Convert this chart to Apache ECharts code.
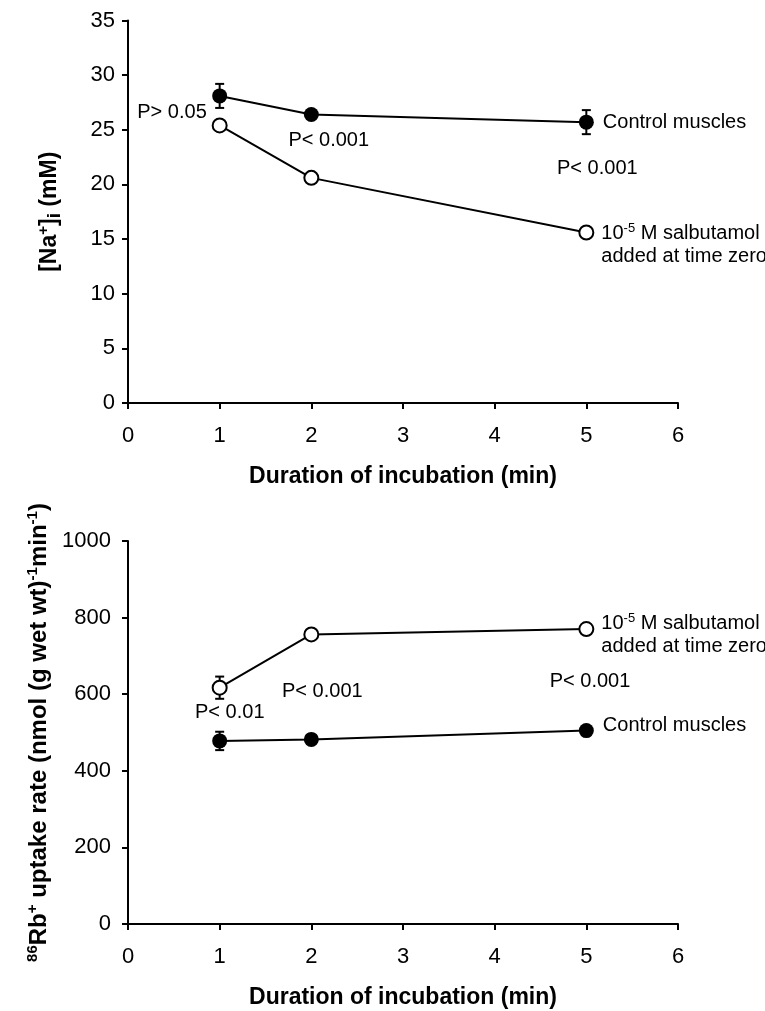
<!DOCTYPE html>
<html>
<head>
<meta charset="utf-8">
<script src="https://cdn.jsdelivr.net/npm/echarts@6/dist/echarts.min.js"></script>
<style>
  html, body { margin: 0; padding: 0; background: #fff; }
  #echart { width: 765px; height: 1011px; }
</style>
</head>
<body>
<div id="echart"></div>
<script>
let echart = echarts.init(document.getElementById('echart'))

// 数据
const minutes = [1, 2, 5]

const naControl = [28.1, 26.4, 25.7]
const naControlErr = [1.1, 0.3, 1.1]
const naSalbutamol = [25.4, 20.6, 15.6]
const naSalbutamolErr = [0.3, 0.3, 0.3]

const rbControl = [478, 482, 505]
const rbControlErr = [24, 8, 12]
const rbSalbutamol = [617, 756, 770]
const rbSalbutamolErr = [29, 8, 8]

// P-value notes: [x, y, text] in data units
const naNotes = [[0.48, 26.6, 'P> 0.05'], [2.19, 24.0, 'P< 0.001'], [5.12, 21.45, 'P< 0.001']]
const rbNotes = [[1.11, 553, 'P< 0.01'], [2.12, 608, 'P< 0.001'], [5.04, 632, 'P< 0.001']]

const font = 'Liberation Sans, Arial, Helvetica, sans-serif'

const textRich = {
    t: {fontSize: 20, fontFamily: font, color: '#000', lineHeight: 23},
    s: {fontSize: 13, fontFamily: font, color: '#000', lineHeight: 12, verticalAlign: 'top'}
}
const salbText = '{t|10}{s|-5}{t| M salbutamol}\n{t|added at time zero}'

function pts(ys) {
    return minutes.map((x, i) => [x, ys[i]])
}

function lineSeries(ys, idx, filled, label) {
    let data = pts(ys).map((v, i) => {
        let item = {value: v}
        if (i === ys.length - 1) item.label = label
        return item
    })
    return {
        type: 'line',
        xAxisIndex: idx,
        yAxisIndex: idx,
        data: data,
        symbol: 'circle',
        symbolSize: filled ? 15 : 14,
        showSymbol: true,
        lineStyle: {color: '#000', width: 2},
        itemStyle: {color: filled ? '#000' : '#fff', borderColor: '#000', borderWidth: filled ? 0 : 2, opacity: 1},
        emphasis: {disabled: true},
        z: 3
    }
}

function errSeries(ys, errs, idx) {
    return {
        type: 'custom',
        xAxisIndex: idx,
        yAxisIndex: idx,
        data: minutes.map((x, i) => [x, ys[i] - errs[i], ys[i] + errs[i]]),
        renderItem: function (params, api) {
            let lo = api.coord([api.value(0), api.value(1)])
            let hi = api.coord([api.value(0), api.value(2)])
            let w = 4.5
            let st = {stroke: '#000', lineWidth: 2}
            return {
                type: 'group',
                children: [
                    {type: 'line', shape: {x1: lo[0], y1: lo[1], x2: hi[0], y2: hi[1]}, style: st},
                    {type: 'line', shape: {x1: lo[0] - w, y1: lo[1], x2: lo[0] + w, y2: lo[1]}, style: st},
                    {type: 'line', shape: {x1: hi[0] - w, y1: hi[1], x2: hi[0] + w, y2: hi[1]}, style: st}
                ]
            }
        },
        silent: true,
        z: 1
    }
}

function noteSeries(notes, idx) {
    return {
        type: 'scatter',
        xAxisIndex: idx,
        yAxisIndex: idx,
        data: notes,
        symbolSize: 0,
        silent: true,
        itemStyle: {opacity: 1},
        label: {
            show: true,
            position: 'inside',
            formatter: p => p.data[2],
            color: '#000',
            opacity: 1,
            fontSize: 20,
            fontFamily: font
        }
    }
}

function xAxis(idx) {
    return {
        type: 'value',
        gridIndex: idx,
        min: 0,
        max: 6,
        interval: 1,
        axisLine: {show: true, onZero: false, lineStyle: {color: '#000', width: 2}},
        axisTick: {show: true, length: 6, lineStyle: {color: '#000', width: 2}},
        axisLabel: {fontSize: 22, color: '#000', fontFamily: font, margin: 22},
        splitLine: {show: false},
        name: 'Duration of incubation (min)',
        nameLocation: 'middle',
        nameGap: 62,
        nameTextStyle: {fontSize: 23, fontWeight: 'bold', color: '#000', fontFamily: font}
    }
}

function nameRich(size) {
    return {
        b: {fontSize: size, fontWeight: 'bold', fontFamily: font, color: '#000', lineHeight: 28},
        sup: {fontSize: 15, fontWeight: 'bold', fontFamily: font, color: '#000', lineHeight: 14, verticalAlign: 'top'},
        sub: {fontSize: 19, fontWeight: 'bold', fontFamily: font, color: '#000', lineHeight: 24, verticalAlign: 'bottom'}
    }
}

function yAxis(idx, max, interval, name, gap, margin, size) {
    return {
        type: 'value',
        gridIndex: idx,
        min: 0,
        max: max,
        interval: interval,
        axisLine: {show: true, lineStyle: {color: '#000', width: 2}},
        axisTick: {show: true, length: 6, lineStyle: {color: '#000', width: 2}},
        axisLabel: {fontSize: 22, color: '#000', fontFamily: font, margin: margin, formatter: v => String(v)},
        splitLine: {show: false},
        name: name,
        nameLocation: 'middle',
        nameGap: gap,
        nameTextStyle: {rich: nameRich(size)}
    }
}

let option = {
    animation: false,
    grid: [
        {left: 128, top: 20.5, width: 550, height: 382.5},
        {left: 128, top: 541, width: 550, height: 383}
    ],
    xAxis: [xAxis(0), xAxis(1)],
    yAxis: [
        yAxis(0, 35, 5, '{b|[Na}{sup|+}{b|]}{sub|i}{b| (mM)}', 64, 13, 23),
        yAxis(1, 1000, 200, '{sup|86}{b|Rb}{sup|+}{b| uptake rate (nmol (g wet wt)}{sup|-1}{b|min}{sup|-1}{b|)}', 67, 17, 24)
    ],
    series: [
        errSeries(naControl, naControlErr, 0),
        errSeries(naSalbutamol, naSalbutamolErr, 0),
        lineSeries(naControl, 0, true, {
            show: true, position: 'right', distance: 9,
            formatter: '{t|Control muscles}', rich: textRich
        }),
        lineSeries(naSalbutamol, 0, false, {
            show: true, position: 'right', distance: 7, verticalAlign: 'top', offset: [0, -11],
            formatter: salbText, rich: textRich
        }),
        noteSeries(naNotes, 0),

        errSeries(rbControl, rbControlErr, 1),
        errSeries(rbSalbutamol, rbSalbutamolErr, 1),
        lineSeries(rbControl, 1, true, {
            show: true, position: 'right', distance: 9, offset: [0, -5],
            formatter: '{t|Control muscles}', rich: textRich
        }),
        lineSeries(rbSalbutamol, 1, false, {
            show: true, position: 'right', distance: 7, verticalAlign: 'top', offset: [0, -17],
            formatter: salbText, rich: textRich
        }),
        noteSeries(rbNotes, 1)
    ]
};

echart.setOption(option);
</script>
</body>
</html>
